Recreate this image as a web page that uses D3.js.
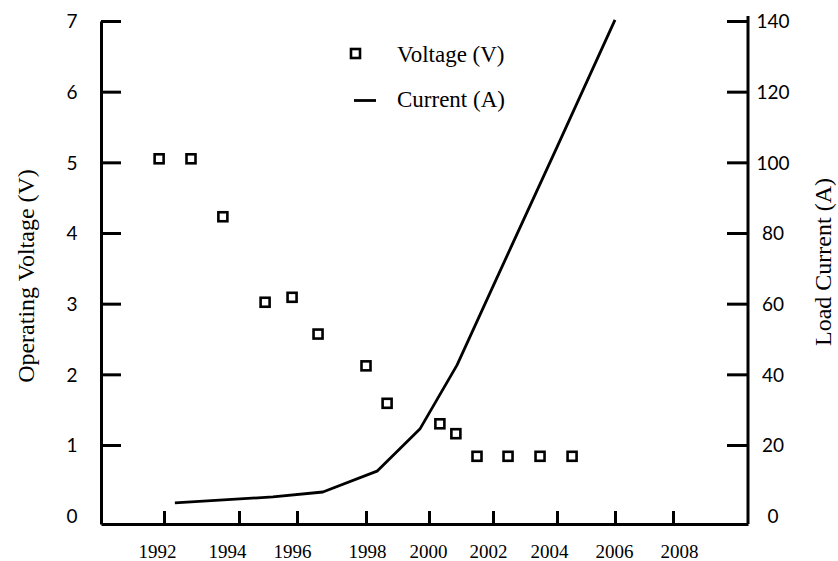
<!DOCTYPE html>
<html lang="en">

<head>
    <meta charset="UTF-8">
    <title>Operating Voltage and Load Current</title>
    <script src="https://d3js.org/d3.v7.min.js"></script>
    <style>
        body {
            margin: 0;
            background: white;
        }

        .num {
            font-family: Lato, "Open Sans", sans-serif;
            font-size: 19px;
            fill: black;
        }

        .serif {
            font-family: "Liberation Serif", "Times New Roman", serif;
            fill: black;
        }
    </style>
</head>

<body>
    <svg id="svg" width=838 height=561></svg>
</body>
<script>
    // x tick years
    const years = [1992, 1994, 1996, 1998, 2000, 2002, 2004, 2006, 2008];
    const voltTicks = [0, 1, 2, 3, 4, 5, 6, 7];
    const currentTicks = [0, 20, 40, 60, 80, 100, 120, 140];

    // operating voltage (V)
    const voltYears = [1991.87, 1992.72, 1993.57, 1994.9, 1995.83, 1996.61, 1998.0, 1998.67,
        2000.34, 2000.84, 2001.5, 2002.47, 2003.47, 2004.52];
    const voltValues = [5.05, 5.05, 4.23, 3.02, 3.09, 2.57, 2.12, 1.59,
        1.30, 1.16, 0.84, 0.84, 0.84, 0.84];

    // load current (A)
    const currentYears = [1992.29, 1995.17, 1996.75, 1998.35, 1999.71, 2000.875, 2002, 2004, 2006];
    const currentValues = [3.6, 5.3, 6.7, 12.6, 24.5, 42.6, 64.9, 104.3, 140.3];

    const svg = d3.select("#svg");

    // the year ticks are not evenly spaced in the original, so the scale is piecewise
    const x = d3.scaleLinear()
        .domain([1990.32, ...years, 2010.59])
        .range([101, 164, 239, 297, 366, 429, 493, 557, 615, 673, 748]);
    // the year labels sit a little off their ticks
    const xLabel = d3.scaleLinear()
        .domain(years)
        .range([157, 227, 292, 367, 428, 488, 549, 614, 679]);

    const yV = d3.scaleLinear().domain([-0.118, 7]).range([524, 21]);
    const yA = d3.scaleLinear().domain([-0.118 * 20, 140]).range([524, 21]);

    const left = x.range()[0];
    const right = x.range()[x.range().length - 1];
    const bottom = yV.range()[0];

    function styleAxis(g) {
        g.select(".domain").attr("stroke", "black").attr("stroke-width", 3);
        g.selectAll(".tick line").attr("stroke", "black").attr("stroke-width", 3);
    }

    // bottom axis
    const xAxis = svg.append("g")
        .attr("transform", `translate(0,${bottom})`)
        .call(d3.axisBottom(x).tickValues(years).tickSizeInner(-13).tickSizeOuter(0).tickFormat(d3.format("d")));
    styleAxis(xAxis);
    xAxis.selectAll(".tick text")
        .attr("class", "serif")
        .attr("font-size", 19)
        .attr("font-family", null)
        .attr("x", d => xLabel(d) - x(d))
        .attr("y", 34)
        .attr("dy", 0);

    // left axis
    const vAxis = svg.append("g")
        .attr("transform", `translate(${left},0)`)
        .call(d3.axisLeft(yV).tickValues(voltTicks).tickSizeInner(-20).tickSizeOuter(0));
    styleAxis(vAxis);
    vAxis.selectAll(".tick line").filter(d => d === 0).remove();
    vAxis.selectAll(".tick text")
        .attr("class", "num")
        .attr("font-size", null)
        .attr("font-family", null)
        .attr("text-anchor", "middle")
        .attr("x", -29)
        .attr("dy", "0.36em");

    // right axis
    const aAxis = svg.append("g")
        .attr("transform", `translate(${right},0)`)
        .call(d3.axisRight(yA).tickValues(currentTicks).tickSizeInner(-21).tickSizeOuter(0));
    styleAxis(aAxis);
    aAxis.select(".domain").attr("d", `M0,${bottom}V16`);
    aAxis.selectAll(".tick line").filter(d => d === 0).remove();
    aAxis.selectAll(".tick text")
        .attr("class", "num")
        .attr("font-size", null)
        .attr("font-family", null)
        .attr("text-anchor", "middle")
        .attr("x", 25)
        .attr("dy", "0.36em");

    // current line
    const line = d3.line()
        .x(d => x(d[0]))
        .y(d => yA(d[1]));
    svg.append("path")
        .datum(d3.zip(currentYears, currentValues))
        .attr("d", line)
        .attr("fill", "none")
        .attr("stroke", "black")
        .attr("stroke-width", 2.8)
        .attr("stroke-linejoin", "round");

    // voltage squares
    const sq = 9;
    svg.append("g")
        .selectAll("rect")
        .data(d3.zip(voltYears, voltValues))
        .join("rect")
        .attr("x", d => x(d[0]) - sq / 2)
        .attr("y", d => yV(d[1]) - sq / 2)
        .attr("width", sq)
        .attr("height", sq)
        .attr("fill", "white")
        .attr("stroke", "black")
        .attr("stroke-width", 2.6);

    // legend
    const legend = svg.append("g");
    legend.append("rect")
        .attr("x", 355.5 - sq / 2)
        .attr("y", 53.5 - sq / 2)
        .attr("width", sq)
        .attr("height", sq)
        .attr("fill", "white")
        .attr("stroke", "black")
        .attr("stroke-width", 2.6);
    legend.append("line")
        .attr("x1", 354).attr("x2", 376)
        .attr("y1", 100.5).attr("y2", 100.5)
        .attr("stroke", "black")
        .attr("stroke-width", 2.8);
    legend.append("text")
        .attr("class", "serif")
        .attr("x", 397).attr("y", 62)
        .attr("font-size", 23)
        .text("Voltage (V)");
    legend.append("text")
        .attr("class", "serif")
        .attr("x", 397).attr("y", 107)
        .attr("font-size", 23)
        .text("Current (A)");

    // axis titles
    svg.append("text")
        .attr("class", "serif")
        .attr("transform", "translate(34,276) rotate(-90)")
        .attr("text-anchor", "middle")
        .attr("font-size", 24)
        .text("Operating Voltage (V)");
    svg.append("text")
        .attr("class", "serif")
        .attr("transform", "translate(831,262) rotate(-90)")
        .attr("text-anchor", "middle")
        .attr("font-size", 24)
        .text("Load Current (A)");
</script>

</html>
